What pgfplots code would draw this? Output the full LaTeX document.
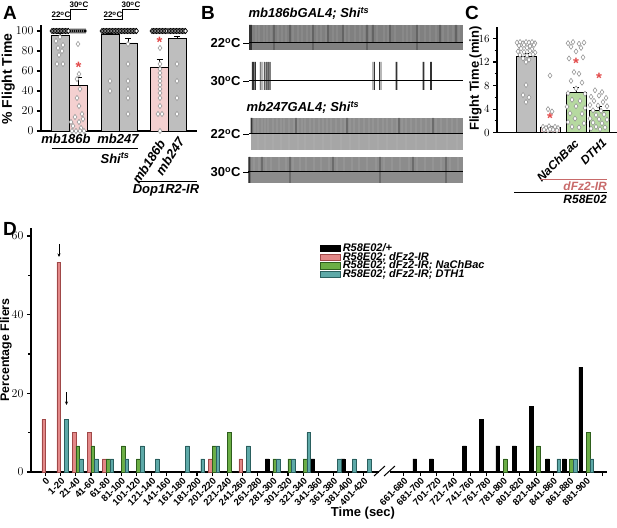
\documentclass[border=0pt]{standalone}
\usepackage{fontspec}
\setmainfont{Liberation Sans}
\usepackage{pgfplots}
\pgfplotsset{compat=1.18}
\usetikzlibrary{arrows.meta}

\definecolor{pinkD}{HTML}{E38888}
\definecolor{pinkE}{HTML}{A04848}
\definecolor{greenD}{HTML}{6BAE45}
\definecolor{greenE}{HTML}{2E5E1C}
\definecolor{tealD}{HTML}{5EA9A8}
\definecolor{tealE}{HTML}{2A5F5E}
\definecolor{grayA}{HTML}{BEBEBE}
\definecolor{pinkA}{HTML}{F4D0D0}
\definecolor{greenC}{HTML}{B6D9A0}
\definecolor{starred}{HTML}{E24A4A}
\definecolor{labpink}{HTML}{C86A6A}

\newcommand{\fs}[1]{\fontsize{#1}{#1}\selectfont}

\pgfplotsset{
  panel/.style={scale only axis, anchor=south west, axis x line*=bottom, axis y line*=left,
    axis line style={line width=1.3pt}, tick align=outside,
    tick style={line width=1.1pt, black}, major tick length=4pt, minor tick length=2.5pt,
    clip=false},
  dots/.style={only marks, mark=diamond*, mark size=2.6pt,
    mark options={fill=white, draw=black!45, line width=0.5pt}},
  tops/.style={only marks, mark=diamond*, mark size=2.6pt,
    mark options={fill=white, draw=black, line width=0.7pt}},
  dbar/.style={ybar, bar width=3.7pt, line width=0.4pt,
    legend image code/.code={\draw[##1, line width=0.5pt] (0pt,-3.2pt) rectangle (20pt,3.2pt);}},
  errs/.style={error bars/.cd, y dir=plus, y explicit,
    error bar style={line width=0.8pt, black},
    error mark options={rotate=90, mark size=3pt, line width=0.8pt, black}},
  trace/.style={scale only axis, anchor=south west, hide axis, xmin=248, xmax=463,
    width=215pt, clip=false},
  gap/.style={ybar, bar width=0.45pt, fill=white!80!black, draw=none, bar shift=0pt},
  spk/.style={ybar, bar width=0.7pt, fill=black!80, draw=none, bar shift=0pt},
  dtick/.style={xticklabel style={font=\fs{9.5}\bfseries, rotate=45, anchor=north east, inner sep=0.5pt}},
}

\begin{document}
\begin{tikzpicture}

% ---------- panel A
\begin{axis}[panel, at={(41pt,396pt)}, width=156pt, height=106pt,
  xmin=41, xmax=197, ymin=0, ymax=106, xtick=\empty,
  ytick={0,20,...,100}, tick label style={font=\fs{13}\bfseries},
  ylabel={\% Flight Time},
  ylabel style={font=\fs{14}\bfseries, at={(axis description cs:-0.21,0.49)}, anchor=center}]
\addplot[ybar, bar width=18pt, bar shift=0pt, fill=grayA, draw=black, line width=0.8pt, errs]
  coordinates {(60,95.7) +- (0,1.5) (110,96.3) +- (0,1.2) (128,88) +- (0,4.4) (177,92.4) +- (0,2.5)};
\addplot[ybar, bar width=18pt, bar shift=0pt, fill=pinkA, draw=black, line width=0.8pt, errs]
  coordinates {(78.5,45.8) +- (0,7.7) (159.5,64) +- (0,7.4)};
\addplot[tops] coordinates {(52,100) (53.5,100) (55,100) (56.5,100) (58,100) (59.5,100) (61,100) (62.5,100) (64,100) (65.5,100) (67,100) (68.5,100)
  (102,100) (103.5,100) (105,100) (106.5,100) (108,100) (109.5,100) (111,100) (112.5,100) (114,100) (115.5,100) (117,100) (118.5,100)
  (120,100) (121.5,100) (123,100) (124.5,100) (126,100) (127.5,100) (129,100) (130.5,100) (132,100) (133.5,100) (135,100) (136.5,100)
  (152,100) (153.5,100) (155,100) (156.5,100) (158,100) (159.5,100) (161,100) (162.5,100) (164,100) (165.5,100) (167,100)
  (169,100) (170.5,100) (172,100) (173.5,100) (175,100) (176.5,100) (178,100) (179.5,100) (181,100) (182.5,100) (184,100) (185.5,100)};
\addplot[dots, mark options={draw=black!30}] coordinates {(71,100) (73,100) (75,100) (77,100) (79,100) (81,100) (83,100) (85,100)};
\addplot[dots] coordinates {(60,94) (56,90) (63,86) (58,83) (62,80) (59,76) (57,67) (63,67)
  (78,87) (79,57) (77,52) (80,42) (77,33) (79,25) (82,17) (75,14) (83,12) (71,9) (79,9) (73,5) (81,3) (72,0) (76,0) (80,0) (84,0)
  (110,50) (110,40)
  (128,87) (128,67) (128,50) (128,42) (128,33) (128,17)
  (160,83) (160,67) (160,62) (160,58) (160,54) (160,50) (160,46) (160,42) (160,38) (160,33) (160,25) (158,17) (162,17) (160,0)
  (177,67) (177,50) (177,33) (177,17)};
\node[text=starred, font=\fs{15}\bfseries] at (axis cs:78.5,64) {*};
\node[text=starred, font=\fs{15}\bfseries] at (axis cs:159.5,89) {*};
\end{axis}

% ---------- panel B traces
\begin{axis}[trace, at={(248pt,477pt)}, height=25pt, ymin=-7, ymax=18]
\addplot[fill=black!50, draw=none] coordinates {(249,-7) (463,-7) (463,18) (249,18)} -- cycle;
\addplot[gap] coordinates {(256,18) (259,18) (264,18) (267,18) (271,18) (278,18) (282,18) (286,18) (293,18) (298,18)
  (302,18) (307,18) (311,18) (317,18) (321,18) (326,18) (333,18) (337,18) (345,18) (349,18) (355,18) (360,18)
  (364,18) (370,18) (377,18) (384,18) (388,18) (395,18) (403,18) (407,18) (411,18) (419,18) (425,18) (430,18)
  (436,18) (443,18) (448,18) (453,18) (459,18)};
\addplot[spk] coordinates {(249.5,18) (250.5,18) (251.5,18) (274,18) (290,18) (313,18) (328,18) (343,18) (367,18)
  (373,18) (390,18) (417,18) (440,18) (456,18)};
\addplot[spk] coordinates {(249.5,-7) (250.5,-7) (251.5,-7) (274,-7) (313,-7) (367,-7) (417,-7)};
\addplot[black, line width=1pt] coordinates {(249,0) (463,0)};
\end{axis}

\begin{axis}[trace, at={(248pt,437pt)}, height=28pt, ymin=-9, ymax=19]
\addplot[fill=black!35, draw=none] coordinates {(264,-9) (271,-9) (271,19) (264,19)} -- cycle;
\addplot[spk] coordinates {(252.3,19) (253.3,19) (254.3,19) (255.5,19) (260.3,19) (262,19) (264.3,19) (266.7,19) (268.3,19) (270,19)
  (373,19) (374.5,19) (379.5,19) (381,19) (396,19) (397,19) (423,19) (424,19) (430.5,19) (431.5,19)};
\addplot[spk] coordinates {(252.3,-9) (253.3,-9) (254.3,-9) (255.5,-9) (260.3,-9) (262,-9) (264.3,-9) (266.7,-9) (268.3,-9) (270,-9)
  (373,-9) (374.5,-9) (379.5,-9) (381,-9) (396,-9) (397,-9) (423,-9) (424,-9) (430.5,-9) (431.5,-9)};
\addplot[black, line width=1pt] coordinates {(249,0) (463,0)};
\end{axis}

\begin{axis}[trace, at={(248pt,377pt)}, height=32pt, ymin=-16, ymax=16]
\addplot[fill=black!45, draw=none] coordinates {(251,0) (463,0) (463,16) (251,16)} -- cycle;
\addplot[fill=black!35, draw=none] coordinates {(251,-16) (463,-16) (463,0) (251,0)} -- cycle;
\addplot[gap] coordinates {(255,16) (258,16) (262,16) (265,16) (268,16) (273,16) (277,16) (281,16) (284,16) (289,16)
  (294,16) (298,16) (302,16) (305,16) (310,16) (314,16) (319,16) (323,16) (327,16) (331,16) (336,16) (341,16)
  (345,16) (350,16) (354,16) (359,16) (364,16) (369,16) (373,16) (378,16) (383,16) (387,16) (392,16) (397,16)
  (402,16) (406,16) (411,16) (416,16) (421,16) (426,16) (431,16) (436,16) (441,16) (447,16) (452,16) (457,16)};
\addplot[gap] coordinates {(258,-16) (265,-16) (273,-16) (281,-16) (289,-16) (298,-16) (305,-16) (314,-16) (323,-16)
  (331,-16) (341,-16) (350,-16) (359,-16) (369,-16) (378,-16) (387,-16) (397,-16) (406,-16) (416,-16) (426,-16)
  (436,-16) (447,-16) (457,-16)};
\addplot[spk] coordinates {(251,16) (252,16) (296,16) (347,16) (399,16) (433,16)};
\addplot[black, line width=1pt] coordinates {(249,0) (463,0)};
\end{axis}

\begin{axis}[trace, at={(248pt,344pt)}, height=26pt, ymin=-11, ymax=15]
\addplot[fill=black!45, draw=none] coordinates {(248,-11) (463,-11) (463,15) (248,15)} -- cycle;
\addplot[gap] coordinates {(254,15) (259,15) (266,15) (271,15) (279,15) (286,15) (293,15) (300,15) (306,15) (314,15)
  (321,15) (329,15) (337,15) (344,15) (352,15) (359,15) (367,15) (376,15) (384,15) (392,15) (400,15) (409,15)
  (417,15) (425,15) (433,15) (441,15) (450,15) (458,15)};
\addplot[spk] coordinates {(249,15) (250,15) (262,15) (290,15) (333,15) (380,15) (413,15) (446,15)};
\addplot[spk] coordinates {(249,-11) (250,-11) (290,-11) (380,-11) (446,-11)};
\addplot[black, line width=1pt] coordinates {(248,0) (463,0)};
\end{axis}

% ---------- panel C
\begin{axis}[panel, at={(497pt,394.3pt)}, width=120pt, height=106pt,
  xmin=497, xmax=617, ymin=0, ymax=18, xtick=\empty,
  ytick={0,4,...,16}, minor ytick={2,6,10,14}, tick label style={font=\fs{11}\bfseries},
  ylabel={Flight Time (min)},
  ylabel style={font=\fs{13}\bfseries, at={(axis description cs:-0.178,0.51)}, anchor=center}]
\addplot[ybar, bar width=20pt, bar shift=0pt, fill=grayA, draw=black, line width=0.8pt, errs]
  coordinates {(526,12.9) +- (0,0.5)};
\addplot[ybar, bar width=20pt, bar shift=0pt, fill=pinkA, draw=black, line width=0.8pt, errs]
  coordinates {(550,0.9) +- (0,0.2)};
\addplot[ybar, bar width=20pt, bar shift=0pt, fill=greenC, draw=black, line width=0.8pt, errs]
  coordinates {(576,6.9) +- (0,0.8) (599,3.8) +- (0,0.6)};
\addplot[dots] coordinates {(517,15.3) (520,15.4) (523,15.2) (526,15.4) (529,15.3) (532,15.4) (535,15.2)
  (519,14.8) (524,14.9) (530,14.7) (534,14.9) (521,14.3) (527,14.4) (532,14.2) (518,13.8) (524,13.7) (530,13.9)
  (535,13.6) (520,13.2) (527,13.1) (533,13.3) (523,12.6) (529,12.4) (526,12.0) (526,8.1) (523,6.4) (529,6.0) (526,5.2)
  (550,9.7) (548,4.0) (552,3.6) (543,1.0) (546,0.8) (549,1.1) (552,0.7) (555,1.0) (558,0.8) (544,0.5) (548,0.4)
  (553,0.5) (557,0.4) (550,0.6)
  (568,15.2) (573,15.4) (579,15.1) (584,15.3) (571,14.6) (581,14.4) (576,13.8) (569,12.6) (583,12.8) (574,10.3)
  (579,10.0) (571,8.8) (582,8.5) (576,7.5) (568,6.7) (585,6.6) (572,5.6) (580,5.4) (567,4.4) (576,4.5) (585,4.2)
  (570,3.3) (582,3.2) (575,2.4) (568,1.8) (584,1.6) (572,1.0) (579,0.9)
  (595,7.2) (602,6.9) (591,6.1) (599,6.3) (606,5.9) (594,5.4) (603,5.2) (590,4.7) (598,4.6) (607,4.5) (593,3.8)
  (601,3.7) (596,3.0) (604,3.1) (590,2.4) (599,2.3) (607,2.2) (593,1.7) (602,1.6) (596,1.0) (605,0.9) (591,0.7) (600,0.6)};
\node[text=starred, font=\fs{15}\bfseries] at (axis cs:550,2.5) {*};
\node[text=starred, font=\fs{15}\bfseries] at (axis cs:576,11.7) {*};
\node[text=starred, font=\fs{15}\bfseries] at (axis cs:599,9.3) {*};
\end{axis}

% ---------- panel D, left part
\begin{axis}[panel, dtick, at={(31pt,55pt)}, width=348pt, height=243.9pt,
  xmin=-0.96, xmax=22.01, ymin=0, ymax=62,
  xtick={0,...,21},
  xticklabels={0,1-20,21-40,41-60,61-80,81-100,101-120,121-140,141-160,161-180,181-200,201-220,
    221-240,241-260,261-280,281-300,301-320,321-340,341-360,361-380,381-400,401-420},
  ytick={0,20,40,60}, minor ytick={10,30,50},
  yticklabel style={font=\fs{12}\bfseries},
  ylabel={Percentage Fliers},
  ylabel style={font=\fs{12.4}\bfseries, at={(axis description cs:-0.072,0.50)}, anchor=center},
  legend cell align=left,
  legend style={at={(axis description cs:0.822,0.943)}, anchor=north west, draw=none, fill=none,
    font=\fs{11}\bfseries\itshape, row sep=0pt, column sep=2pt,
    nodes={inner sep=0pt, text height=7.2pt, text depth=1.4pt}}]
\addplot[dbar, bar shift=-5.55pt, fill=black, draw=black] coordinates {(15,3.33) (18,3.33) (20,3.33)};
\addlegendentry{R58E02/+}
\addplot[dbar, bar shift=-1.85pt, fill=pinkD, draw=pinkE] coordinates {(0,13.33) (1,53.33) (2,10) (3,10) (4,3.33) (11,3.33) (13,3.33)};
\addlegendentry{R58E02; dFz2-IR}
\addplot[dbar, bar shift=1.85pt, fill=greenD, draw=greenE] coordinates {(2,6.67) (3,6.67) (4,3.33) (5,6.67) (6,3.33) (11,6.67) (12,10) (15,3.33) (16,3.33) (17,3.33)};
\addlegendentry{R58E02; dFz2-IR; NaChBac}
\addplot[dbar, bar shift=5.55pt, fill=tealD, draw=tealE] coordinates {(1,13.33) (2,3.33) (3,3.33) (4,3.33) (5,3.33) (6,6.67) (7,3.33) (9,6.67) (10,3.33) (11,6.67) (13,6.67) (15,3.33) (16,3.33) (17,10) (19,3.33) (20,3.33) (21,3.33)};
\addlegendentry{R58E02; dFz2-IR; DTH1}
\end{axis}

% ---------- panel D, right part
\begin{axis}[panel, dtick, axis y line=none, at={(390pt,55pt)}, width=217pt, height=243.9pt,
  xmin=-0.825, xmax=12.25, ymin=0, ymax=62,
  xtick={0,...,12},
  xticklabels={661-680,681-700,701-720,721-740,741-760,761-780,781-800,801-820,821-840,841-860,861-880,881-900,{}}]
\addplot[dbar, bar shift=-5.55pt, fill=black, draw=black] coordinates {(1,3.33) (2,3.33) (4,6.67) (5,13.33) (6,6.67) (7,6.67) (8,16.67) (9,3.33) (10,3.33) (11,26.67)};
\addplot[dbar, bar shift=1.85pt, fill=greenD, draw=greenE] coordinates {(6,3.33) (8,6.67) (10,3.33) (11,10)};
\addplot[dbar, bar shift=5.55pt, fill=tealD, draw=tealE] coordinates {(9,3.33) (10,3.33) (11,3.33)};
\end{axis}

\begin{scope}[x=1pt, y=1pt]
% panel letters
\node[anchor=north west, inner sep=0pt] at (3,521) {\fs{19}\bfseries A};
\node[anchor=north west, inner sep=0pt] at (201,521) {\fs{19}\bfseries B};
\node[anchor=north west, inner sep=0pt] at (465,521) {\fs{19}\bfseries C};
\node[anchor=north west, inner sep=0pt] at (3,305) {\fs{19}\bfseries D};

% temperature steps above A
\draw[line width=0.9pt] (52,507.5) -- (70,507.5) -- (70,517.5) -- (87,517.5);
\draw[line width=0.9pt] (104,507.5) -- (122,507.5) -- (122,517.5) -- (139,517.5);
\node[font=\fs{8}\bfseries] at (61,512) {22\textsuperscript{o}C};
\node[font=\fs{8}\bfseries] at (79,522) {30\textsuperscript{o}C};
\node[font=\fs{8}\bfseries] at (113,512) {22\textsuperscript{o}C};
\node[font=\fs{8}\bfseries] at (131,522) {30\textsuperscript{o}C};

% labels under A
\node[font=\fs{13}\bfseries\itshape] at (66,388) {mb186b};
\node[font=\fs{13}\bfseries\itshape] at (118,388) {mb247};
\draw[line width=0.8pt] (52,379) -- (138,379);
\node[font=\fs{13}\bfseries\itshape] at (115,369) {Shi\textsuperscript{ts}};
\node[font=\fs{13}\bfseries\itshape, rotate=57, anchor=east] at (164,389) {mb186b};
\node[font=\fs{13}\bfseries\itshape, rotate=57, anchor=east] at (183,391) {mb247};
\draw[line width=0.8pt] (137,346) -- (197,346);
\node[font=\fs{13}\bfseries\itshape] at (166,337) {Dop1R2-IR};

% panel B labels
\node[anchor=base west, font=\fs{13}\bfseries\itshape] at (245,509) {mb186bGAL4; Shi\textsuperscript{ts}};
\node[anchor=base west, font=\fs{13}\bfseries\itshape] at (243,415) {mb247GAL4; Shi\textsuperscript{ts}};
\foreach \yy/\tt in {484/22, 446/30, 393/22, 355/30} {
  \node[anchor=east, font=\fs{13}\bfseries] at (244,\yy) {\tt\textsuperscript{o}C};
  \draw[line width=0.6pt] (243,\yy) -- (249,\yy);
}

% panel C labels
\node[font=\fs{12}\bfseries\itshape, rotate=45, anchor=east] at (579,388) {NaChBac};
\node[font=\fs{12}\bfseries\itshape, rotate=45, anchor=east] at (607,389) {DTH1};
\draw[labpink, line width=0.8pt] (540,348) -- (607,348);
\node[anchor=east, text=labpink, font=\fs{12}\bfseries\itshape, inner sep=0pt] at (607,340.5) {dFz2-IR};
\draw[line width=0.8pt] (514,335) -- (607,335);
\node[anchor=east, font=\fs{12}\bfseries\itshape, inner sep=0pt] at (607,327.5) {R58E02};

% axis break, arrows, x label of D
\draw[line width=1pt] (374,51) -- (385,61);
\draw[line width=1pt] (384,51) -- (395,61);
\draw[line width=0.8pt, -{Stealth[length=3.5pt, width=3pt]}] (59,283) -- (59,270);
\draw[line width=0.8pt, -{Stealth[length=3.5pt, width=3pt]}] (66.5,135) -- (66.5,122);
\node[font=\fs{13}\bfseries] at (363,14) {Time (sec)};

\pgfresetboundingbox
\useasboundingbox (0,0) rectangle (617,527);
\end{scope}
\end{tikzpicture}
\end{document}
